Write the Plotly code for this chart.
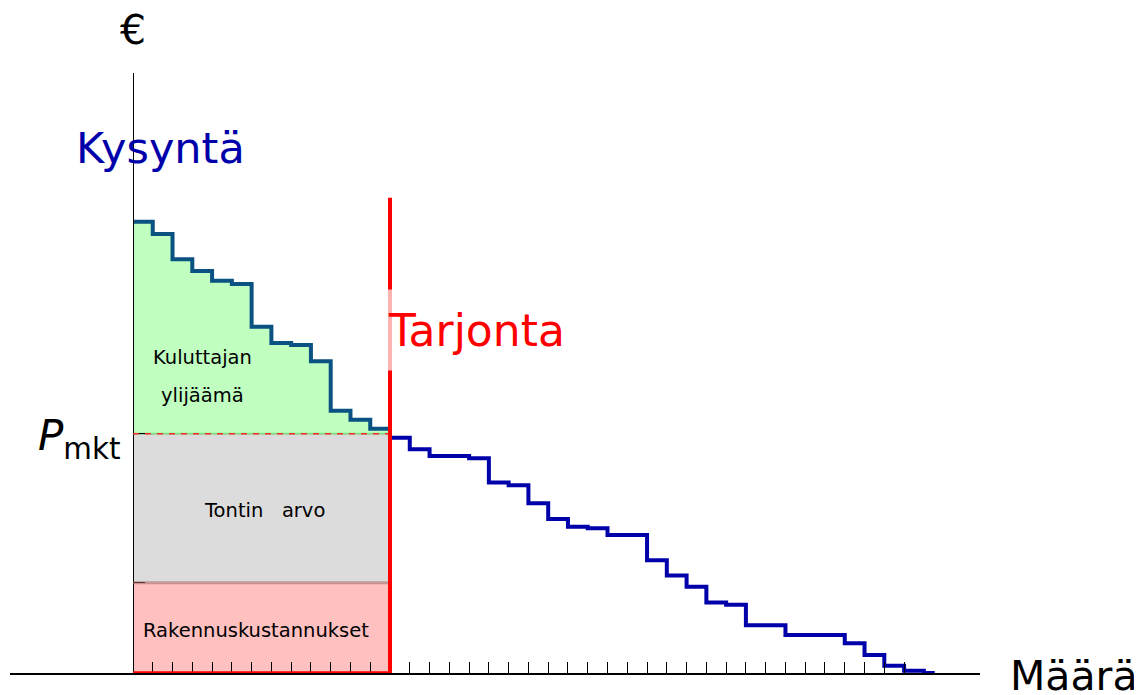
import plotly.graph_objects as go

# kysyntä: hinta jokaiselle yksikölle (porraskäyrä)
demand = [100, 97.3, 91.7, 89.1, 86.9, 86.2, 76.7, 73.1, 72.7, 69.1,
          58.1, 56.1, 54.1, 52.1, 49.6, 48.1, 48.1, 47.6, 42.2, 41.6,
          37.6, 34.1, 32.4, 32.1, 30.6, 30.6, 25.0, 21.6, 19.1, 15.6,
          15.1, 10.6, 10.6, 8.4, 8.4, 8.4, 6.6, 4.0, 1.6, 0.5, 0.0]
demand_end = 40.55
supply_q = 13        # tarjonta (pystysuora)
supply_top = 105.3
p_mkt = 53           # markkinahinta
build_cost = 20      # rakennuskustannukset
tick_q = list(range(1, 40))

FONT = "DejaVu Sans"
BLUE = "#0000aa"

x_left = list(range(supply_q + 1))
y_left = demand[:supply_q] + [demand[supply_q - 1]]
x_right = list(range(supply_q, len(demand))) + [demand_end]
y_right = demand[supply_q:] + [demand[-1]]

fig = go.Figure()

# kuluttajan ylijäämä (vihreä alue)
fig.add_trace(go.Scatter(
    x=[0, supply_q], y=[p_mkt, p_mkt], mode="lines",
    line=dict(color="rgba(0,170,0,0.35)", width=2), hoverinfo="skip"
))
fig.add_trace(go.Scatter(
    x=x_left, y=y_left, mode="lines", line_shape="hv",
    fill="tonexty", fillcolor="#c0ffc0",
    line=dict(width=0), hoverinfo="skip"
))

# kysyntäkäyrä
fig.add_trace(go.Scatter(
    x=x_left, y=y_left, mode="lines", line_shape="hv",
    line=dict(color="#0a5282", width=4)
))
fig.add_trace(go.Scatter(
    x=x_right, y=y_right, mode="lines", line_shape="hv",
    line=dict(color=BLUE, width=4)
))

# tontin arvo + rakennuskustannukset
fig.add_shape(type="rect", x0=0, x1=supply_q, y0=build_cost, y1=p_mkt,
              fillcolor="#dcdcdc", line_width=0, layer="below")
fig.add_shape(type="rect", x0=0, x1=supply_q, y0=0, y1=build_cost,
              fillcolor="#ffc0c0", line_width=0, layer="below")
fig.add_shape(type="line", x0=0, x1=supply_q, y0=build_cost, y1=build_cost,
              line=dict(color="rgba(160,100,100,0.55)", width=3))
fig.add_shape(type="line", x0=0, x1=supply_q, y0=p_mkt, y1=p_mkt,
              line=dict(color="#ff2a2a", width=1.5, dash="6px,6px"))

# tarjonta
fig.add_shape(type="line", x0=0, x1=supply_q, y0=0, y1=0,
              line=dict(color="red", width=3.5))
fig.add_shape(type="line", x0=supply_q, x1=supply_q, y0=0, y1=supply_top,
              line=dict(color="red", width=4))

# tekstit
fig.add_annotation(x=0.1268, y=1.072, xref="paper", yref="paper",
                   xanchor="center", yanchor="middle",
                   text="€", showarrow=False,
                   font=dict(family=FONT, size=41, color="black"))
fig.add_annotation(x=1.37, y=116.3, text="Kysyntä", showarrow=False,
                   font=dict(family=FONT, size=43, color=BLUE))
fig.add_annotation(x=supply_q, y=76.0, text="Tarjonta", showarrow=False,
                   xanchor="left", xshift=-3, align="left",
                   width=190, height=80, borderpad=0,
                   bgcolor="rgba(255,255,255,0.7)",
                   font=dict(family=FONT, size=44, color="red"))
fig.add_annotation(x=1.097, y=-0.005, xref="paper", yref="paper",
                   xanchor="center", yanchor="middle",
                   text="Määrä", showarrow=False,
                   font=dict(family=FONT, size=41, color="black"))
fig.add_annotation(x=-0.5, y=51.9, text="<i>P</i><sub>mkt</sub>",
                   showarrow=False, xanchor="right",
                   font=dict(family=FONT, size=42, color="black"))
fig.add_annotation(x=3.54, y=70.0, text="Kuluttajan", showarrow=False,
                   font=dict(family=FONT, size=19.5, color="black"))
fig.add_annotation(x=3.54, y=61.6, text="ylijäämä", showarrow=False,
                   font=dict(family=FONT, size=19.5, color="black"))
fig.add_annotation(x=6.63, y=36.1, text="Tontin\u00a0\u00a0\u00a0arvo",
                   showarrow=False,
                   font=dict(family=FONT, size=19.5, color="black"))
fig.add_annotation(x=6.22, y=9.5, text="Rakennuskustannukset",
                   showarrow=False,
                   font=dict(family=FONT, size=19.5, color="black"))

fig.update_layout(
    width=1142,
    height=695,
    margin=dict(l=2, r=170, t=65, b=30),
    plot_bgcolor="white",
    paper_bgcolor="white",
    showlegend=False,
    font=dict(family=FONT),
    xaxis=dict(
        range=[-6.22, 42.84], showgrid=False, zeroline=False,
        showline=True, linecolor="black", linewidth=1.5,
        ticks="inside", tickvals=tick_q, ticklen=11, tickwidth=1,
        tickcolor="black", showticklabels=False,
    ),
    yaxis=dict(
        range=[0, 132.95], showgrid=False, zeroline=False,
        anchor="free", position=0.1268,
        showline=True, linecolor="black", linewidth=1,
        ticks="inside", tickvals=[build_cost, p_mkt], ticklen=11,
        tickcolor="black", showticklabels=False,
    ),
)

fig.write_html("out.html")
